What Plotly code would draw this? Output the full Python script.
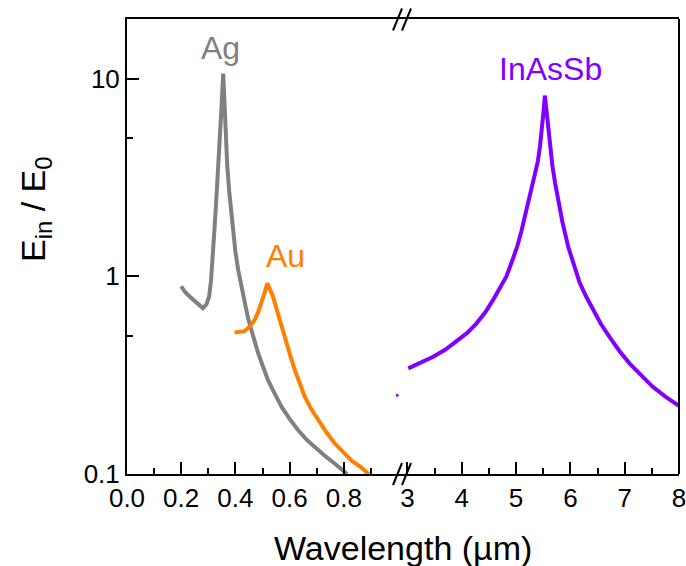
import plotly.graph_objects as go
import math

# ---- data ----
ag_x = [0.200,0.215,0.231,0.255,0.280,0.293,0.303,0.310,0.316,0.323,0.330,0.337,0.343,0.349,0.355,
        0.359,0.364,0.370,0.377,0.384,0.391,0.400,0.410,0.422,0.434,0.446,0.459,0.471,0.484,0.500,
        0.520,0.545,0.570,0.600,0.631,0.665,0.705,0.735,0.766,0.790,0.812]
ag_y = [0.89,0.83,0.79,0.74,0.69,0.72,0.79,0.95,1.21,1.75,2.5,3.5,5.0,7.3,10.6,
        7.6,5.1,3.6,2.7,2.1,1.65,1.33,1.08,0.88,0.73,0.62,0.535,0.468,0.408,0.355,
        0.299,0.255,0.219,0.19,0.167,0.148,0.132,0.122,0.113,0.106,0.100]

au_x = [0.397,0.415,0.434,0.452,0.471,0.484,0.496,0.507,0.518,0.528,0.539,0.551,0.563,0.575,
        0.588,0.603,0.619,0.637,0.656,0.680,0.705,0.735,0.766,0.797,0.828,0.860,0.892]
au_y = [0.520,0.522,0.528,0.555,0.601,0.66,0.73,0.82,0.922,0.86,0.789,0.69,0.601,0.525,
        0.458,0.395,0.336,0.288,0.246,0.213,0.187,0.163,0.143,0.129,0.117,0.109,0.100]

inassb_x = [3.015,3.25,3.474,3.70,3.904,4.10,4.272,4.43,4.577,4.70,4.824,4.92,5.02,5.10,5.17,
            5.23,5.30,5.35,5.40,5.44,5.48,5.51,5.53,5.55,5.58,5.62,5.67,5.72,5.77,5.85,5.96,
            6.06,6.17,6.29,6.415,6.56,6.72,6.90,7.088,7.30,7.517,7.75,7.976,8.0]
inassb_y = [0.342,0.365,0.392,0.426,0.467,0.517,0.578,0.655,0.759,0.87,1.0,1.18,1.41,1.70,2.05,
            2.35,2.85,3.2,3.8,4.53,5.6,7.0,8.2,7.3,5.8,4.53,3.6,2.95,2.45,1.9,1.41,
            1.15,0.93,0.79,0.675,0.575,0.494,0.42,0.363,0.317,0.276,0.246,0.223,0.221]
inassb_dot_x = [2.81]
inassb_dot_y = [0.25]

left_ticks = [0.0, 0.2, 0.4, 0.6, 0.8]
left_ticktext = ["0.0", "0.2", "0.4", "0.6", "0.8"]
left_minor = [0.1, 0.3, 0.5, 0.7, 0.9]
right_ticks = [3, 4, 5, 6, 7, 8]
right_ticktext = ["3", "4", "5", "6", "7", "8"]
right_minor = [3.5, 4.5, 5.5, 6.5, 7.5]
y_ticks = [0.1, 1, 10]
y_ticktext = ["0.1", "1", "10"]
y_minor = [0.5, 5]

GRAY = "#808080"
ORANGE = "#FF8000"
PURPLE = "#8000FF"
FONT = "Liberation Sans, Arial, sans-serif"
LW = 4

W, H = 686, 566
L, R, T, B = 127, 7, 19, 92
pw, ph = W - L - R, H - T - B
brk = 396  # pixel x where the axis is split

def px(xp):
    return (xp - L) / pw

def py(yp):
    return (H - B - yp) / ph

fig = go.Figure()
fig.add_trace(go.Scatter(x=ag_x, y=ag_y, mode="lines", line=dict(color=GRAY, width=LW),
                         xaxis="x", yaxis="y", showlegend=False))
fig.add_trace(go.Scatter(x=au_x, y=au_y, mode="lines", line=dict(color=ORANGE, width=LW),
                         xaxis="x", yaxis="y", showlegend=False))
fig.add_trace(go.Scatter(x=inassb_x, y=inassb_y, mode="lines", line=dict(color=PURPLE, width=LW),
                         xaxis="x2", yaxis="y", showlegend=False))
fig.add_trace(go.Scatter(x=inassb_dot_x, y=inassb_dot_y, mode="markers",
                         marker=dict(color=PURPLE, size=3), xaxis="x2", yaxis="y", showlegend=False))
# empty traces so that the minor-tick overlay axes are drawn
fig.add_trace(go.Scatter(x=[], y=[], xaxis="x3", yaxis="y", showlegend=False, hoverinfo="skip"))
fig.add_trace(go.Scatter(x=[], y=[], xaxis="x4", yaxis="y", showlegend=False, hoverinfo="skip"))
fig.add_trace(go.Scatter(x=[], y=[], xaxis="x", yaxis="y2", showlegend=False, hoverinfo="skip"))

d_split = px(brk)
left_max = (brk - L) / 271.0
right_min = 3 - (407.5 - brk) / 54.4
right_max = 8.0005
yr = [-1, math.log10(20)]

tickfont = dict(family=FONT, size=26, color="black")
base = dict(showline=True, linewidth=2, linecolor="black", showgrid=False, zeroline=False,
            ticks="inside", tickwidth=2, tickcolor="black", tickmode="array",
            automargin=False, ticklabeloverflow="allow")
fig.update_layout(
    width=W, height=H,
    margin=dict(l=L, r=R, t=T, b=B, autoexpand=False),
    plot_bgcolor="white", paper_bgcolor="white",
    xaxis=dict(domain=[0, d_split], range=[0, left_max], tickvals=left_ticks,
               ticktext=left_ticktext, ticklen=12, tickfont=tickfont, anchor="y",
               mirror=True, **base),
    xaxis2=dict(domain=[d_split, 1], range=[right_min, right_max], tickvals=right_ticks,
                ticktext=right_ticktext, ticklen=12, tickfont=tickfont, anchor="y",
                mirror=True, **base),
    xaxis3=dict(domain=[0, d_split], range=[0, left_max], tickvals=left_minor,
                showticklabels=False, ticklen=6, anchor="y", overlaying="x", **base),
    xaxis4=dict(domain=[d_split, 1], range=[right_min, right_max], tickvals=right_minor,
                showticklabels=False, ticklen=6, anchor="y", overlaying="x2", **base),
    yaxis=dict(type="log", range=yr, tickvals=y_ticks, ticktext=y_ticktext, ticklen=12,
               tickfont=tickfont, anchor="x", **base),
    yaxis2=dict(type="log", range=yr, tickvals=y_minor, showticklabels=False, ticklen=6,
                anchor="x", overlaying="y", side="left", **base),
)

shapes = [dict(type="line", xref="paper", yref="paper", x0=1, y0=0, x1=1, y1=1,
               line=dict(color="black", width=2), layer="above")]
# axis-break marks
for cx in (397.5, 406.5):
    for cy in (474, 19.5):
        shapes.append(dict(type="line", xref="paper", yref="paper",
                           x0=px(cx - 4.5), y0=py(cy + 11), x1=px(cx + 4.5), y1=py(cy - 11),
                           line=dict(color="black", width=2), layer="above"))
fig.update_layout(shapes=shapes)

annfont = lambda c: dict(family=FONT, size=32, color=c)
fig.add_annotation(x=0.346, y=math.log10(14.3), xref="x", yref="y", text="Ag",
                   showarrow=False, font=annfont(GRAY), xanchor="center", yanchor="middle")
fig.add_annotation(x=0.585, y=0.10, xref="x", yref="y", text="Au",
                   showarrow=False, font=annfont(ORANGE), xanchor="center", yanchor="middle")
fig.add_annotation(x=5.64, y=1.05, xref="x2", yref="y", text="InAsSb",
                   showarrow=False, font=annfont(PURPLE), xanchor="center", yanchor="middle")
fig.add_annotation(x=px(403), y=py(548), xref="paper", yref="paper", text="Wavelength (µm)",
                   showarrow=False, font=dict(family=FONT, size=34, color="black"),
                   xanchor="center", yanchor="middle")
fig.add_annotation(x=px(36), y=py(209), xref="paper", yref="paper",
                   text="E<sub>in</sub> / E<sub>0</sub>", textangle=-90,
                   showarrow=False, font=dict(family=FONT, size=34, color="black"),
                   xanchor="center", yanchor="middle")

fig.write_html("out.html", post_script="document.body.style.margin='0px';",
               config={"displayModeBar": False})
